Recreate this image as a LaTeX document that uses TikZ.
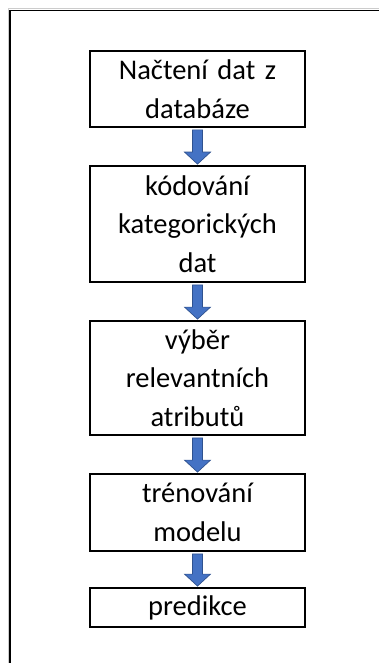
\documentclass[tikz,border=0pt]{standalone}
\usepackage{fontspec}
\setmainfont{Carlito}
\usetikzlibrary{calc}
\definecolor{arrowfill}{HTML}{4472C4}
\definecolor{arrowline}{HTML}{2F528F}
\tikzset{
  stepbox/.style={draw=black, line width=1.8pt, fill=white, minimum width=215pt,
    text width=205pt, align=center, inner sep=0pt,
    font=\fontsize{28.5pt}{38.5pt}\selectfont},
  blockarrow/.style={fill=arrowfill, draw=arrowline, line width=0.7pt, line join=miter}
}
% broad down arrow from the bottom of one box to the top of the next
\newcommand\downarrowbetween[2]{%
  \path[blockarrow] ($(#1.south)+(-5,2)$) -- ($(#2.north)+(-5,-13)$)
    -- ($(#2.north)+(-13,-13)$) -- ($(#2.north)+(0,-1)$)
    -- ($(#2.north)+(13,-13)$) -- ($(#2.north)+(5,-13)$)
    -- ($(#1.south)+(5,2)$) -- cycle;}
\begin{document}
\begin{tikzpicture}[x=1pt, y=-1pt]
  \useasboundingbox (0,0) rectangle (379,663);
  % page frame: top and left edges only
  \draw[line width=1pt, black!20] (8.2,663) -- (8.2,8.6) -- (379,8.6);
  \draw[line width=1.8pt] (9.9,663) -- (9.9,10.5) -- (379,10.5);
  % process steps
  \node[stepbox, minimum height=76pt] (load) at (197.5,89) {Načtení dat z\\databáze};
  \node[stepbox, minimum height=116pt] (encode) at (197.5,224) {kódování\\kategorických\\dat};
  \node[stepbox, minimum height=114pt] (select) at (197.5,378) {výběr\\relevantních\\atributů};
  \node[stepbox, minimum height=77pt] (train) at (197.5,512.5) {trénování\\modelu};
  \node[stepbox, minimum height=39pt] (predict) at (197.5,607.5) {predikce};
  % arrows between steps
  \downarrowbetween{load}{encode}
  \downarrowbetween{encode}{select}
  \downarrowbetween{select}{train}
  \downarrowbetween{train}{predict}
\end{tikzpicture}
\end{document}
